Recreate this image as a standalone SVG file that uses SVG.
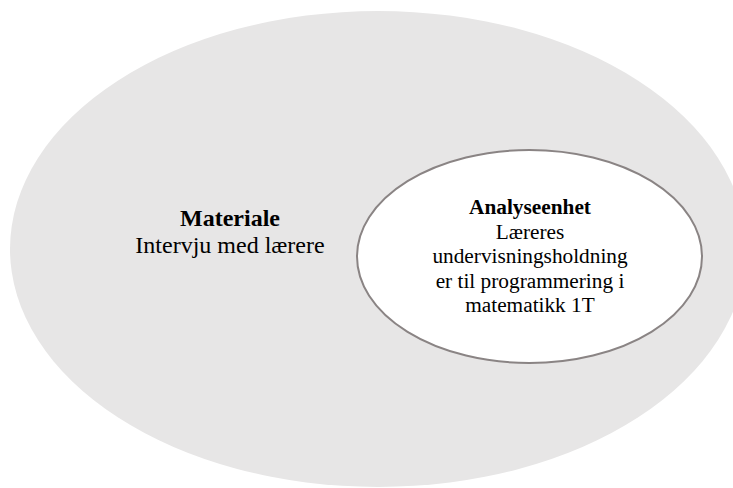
<svg xmlns="http://www.w3.org/2000/svg" width="733" height="488" viewBox="0 0 733 488">
<style>
.t{font-family:"Liberation Serif","Times New Roman",serif;fill:#000;text-anchor:middle}
.b{font-weight:bold}
.o{font-size:24px}
.i{font-size:21.3px}
</style>
<rect width="733" height="488" fill="#ffffff"/>
<g id="materiale">
<ellipse cx="378" cy="249" rx="368" ry="238" fill="#e7e6e6"/>
<text class="t o b" x="230" y="225.7">Materiale</text>
<text class="t o" x="230" y="253">Intervju med lærere</text>
</g>
<g id="analyseenhet">
<ellipse cx="529.5" cy="256.5" rx="172.5" ry="106.5" fill="#ffffff" stroke="#8a8484" stroke-width="2"/>
<text class="t i b" x="530" y="214.3">Analyseenhet</text>
<text class="t i" x="530" y="238.8">Læreres</text>
<text class="t i" x="530" y="263.3">undervisningsholdning</text>
<text class="t i" x="530" y="287.7">er til programmering i</text>
<text class="t i" x="530" y="312">matematikk 1T</text>
</g>
<g id="connectors"></g>
</svg>
